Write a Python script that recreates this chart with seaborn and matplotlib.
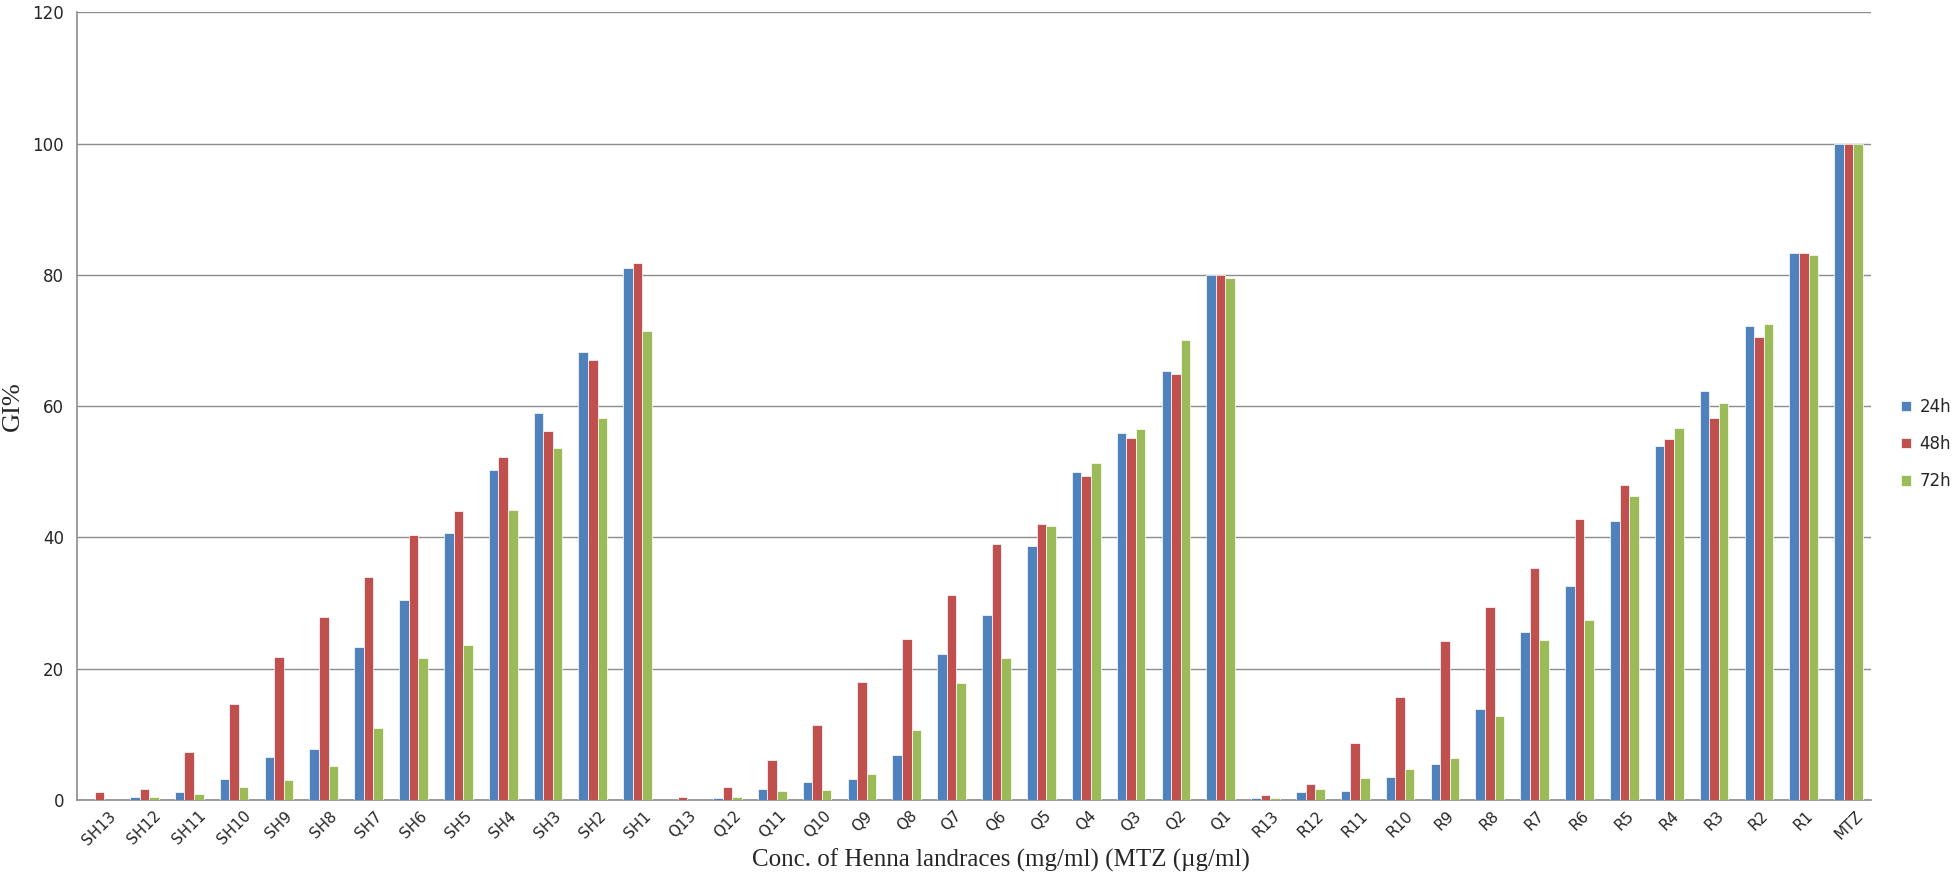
import numpy as np
import pandas as pd
import matplotlib
matplotlib.use('Agg')
import matplotlib.pyplot as plt
import seaborn as sns

# categories along the x axis
categories = ['SH13', 'SH12', 'SH11', 'SH10', 'SH9', 'SH8', 'SH7', 'SH6', 'SH5', 'SH4', 'SH3', 'SH2', 'SH1',
              'Q13', 'Q12', 'Q11', 'Q10', 'Q9', 'Q8', 'Q7', 'Q6', 'Q5', 'Q4', 'Q3', 'Q2', 'Q1',
              'R13', 'R12', 'R11', 'R10', 'R9', 'R8', 'R7', 'R6', 'R5', 'R4', 'R3', 'R2', 'R1', 'MTZ']

gi_24h = [0.0, 0.5, 1.2, 3.2, 6.5, 7.7, 23.3, 30.4, 40.7, 50.3, 59.0, 68.3, 81.1,
          0.0, 0.3, 1.7, 2.7, 3.2, 6.9, 22.3, 28.2, 38.7, 50.0, 55.9, 65.3, 80.0,
          0.3, 1.2, 1.4, 3.5, 5.5, 13.8, 25.6, 32.6, 42.5, 53.9, 62.3, 72.2, 83.3, 100.0]
gi_48h = [1.2, 1.6, 7.3, 14.6, 21.8, 27.9, 33.9, 40.3, 44.1, 52.2, 56.2, 67.0, 81.8,
          0.5, 1.9, 6.1, 11.4, 17.9, 24.6, 31.2, 39.0, 42.0, 49.3, 55.1, 64.9, 80.0,
          0.8, 2.4, 8.7, 15.7, 24.2, 29.4, 35.3, 42.8, 48.0, 55.0, 58.2, 70.5, 83.3, 100.0]
gi_72h = [0.0, 0.5, 0.9, 2.0, 3.1, 5.1, 10.9, 21.6, 23.6, 44.2, 53.6, 58.2, 71.5,
          0.0, 0.5, 1.4, 1.5, 4.0, 10.7, 17.8, 21.6, 41.8, 51.4, 56.6, 70.1, 79.5,
          0.3, 1.7, 3.3, 4.7, 6.4, 12.8, 24.3, 27.4, 46.3, 56.7, 60.5, 72.6, 83.1, 100.0]

times = ['24h', '48h', '72h']
colors = ['#4F81BD', '#C0504D', '#9BBB59']

df = pd.DataFrame({
    'cat': categories * 3,
    'time': np.repeat(times, len(categories)),
    'gi': gi_24h + gi_48h + gi_72h,
})

sns.set_style('white')

fig = plt.figure(figsize=(19.52, 8.76), dpi=100)
ax = fig.add_axes([0.0395, 0.0868, 0.919, 0.899])

sns.barplot(data=df, x='cat', y='gi', hue='time', order=categories, hue_order=times,
            palette=colors, width=0.64, gap=0.0, edgecolor='white', linewidth=0.5,
            saturation=1, errorbar=None, ax=ax, zorder=3)

ax.set_ylim(0, 120)
ax.set_xlim(-0.5, len(categories) - 0.5)
ax.set_yticks(range(0, 121, 20))
ax.yaxis.grid(True, color='#8c8c8c', linewidth=1.0, zorder=0)
ax.set_axisbelow(True)

for side in ['top', 'right']:
    ax.spines[side].set_visible(False)
for side in ['left', 'bottom']:
    ax.spines[side].set_color('#8c8c8c')
    ax.spines[side].set_linewidth(1.2)

# tick marks between categories, labels at the centre (Excel style)
ax.set_xticks(np.arange(len(categories)))
ax.set_xticklabels(categories, rotation=45, ha='center', fontsize=11, family='DejaVu Sans')
ax.set_xticks(np.arange(-0.5, len(categories)), minor=True)
ax.tick_params(axis='x', which='major', length=0, pad=6)
ax.tick_params(axis='x', which='minor', length=6, color='#8c8c8c', width=1.2, direction='out')
ax.tick_params(axis='y', length=6, color='#8c8c8c', width=1.2, direction='out', labelsize=12)

ax.set_xlabel('Conc. of Henna landraces (mg/ml) (MTZ (µg/ml)', family='Liberation Serif',
              fontsize=18)
ax.xaxis.set_label_coords(0.515, -0.062)
ax.set_ylabel('GI%', family='Liberation Serif', fontsize=19, labelpad=6)

ax.legend(loc='center left', bbox_to_anchor=(1.0167, 0.452), frameon=False, fontsize=12,
          handlelength=0.6, handleheight=0.6, handletextpad=0.5, labelspacing=1.15,
          borderaxespad=0, borderpad=0, title=None)

fig.savefig('out.png', dpi=100)
